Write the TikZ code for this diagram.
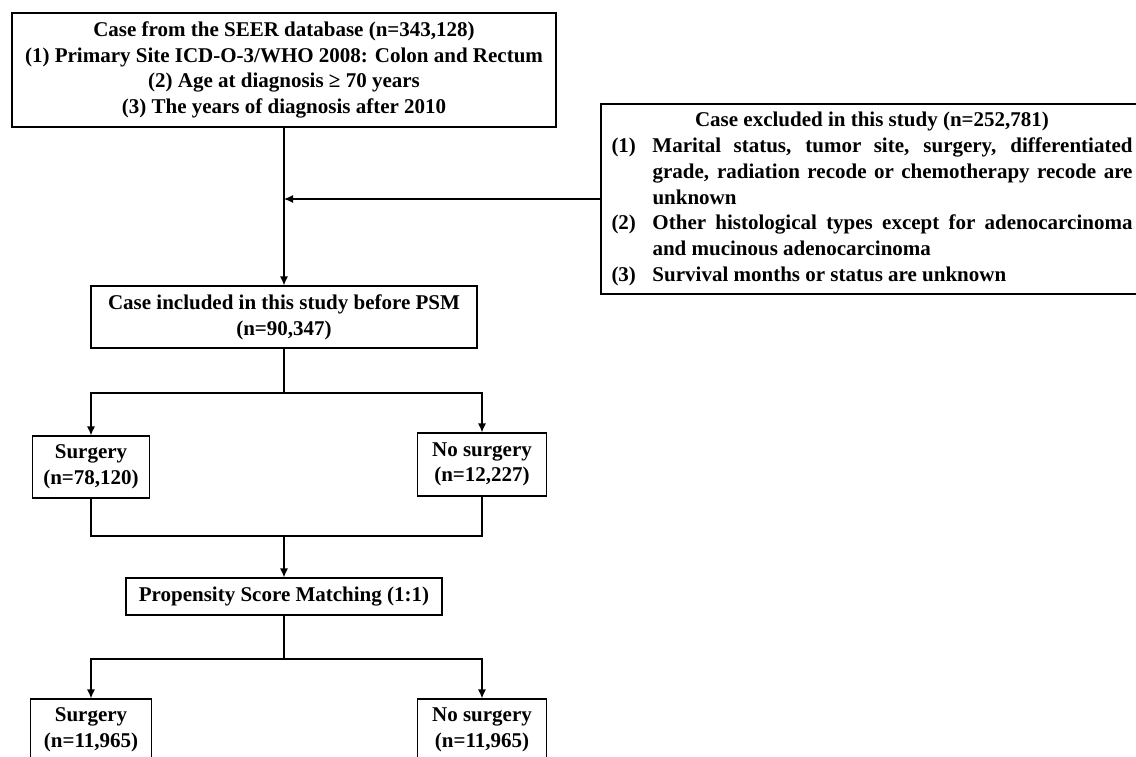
\documentclass[tikz,border=0pt]{standalone}
\usepackage{fontspec}
\setmainfont{Liberation Serif}
\usetikzlibrary{arrows.meta}
\tikzset{
  box/.style={draw, line width=1.2pt, inner sep=0pt, align=center,
    font=\bfseries\fontsize{21}{25.7}\selectfont},
  flow/.style={line width=1.2pt, -{Latex[length=9pt,width=8pt]}},
  link/.style={line width=1.2pt}
}
\begin{document}
\begin{tikzpicture}[x=1pt,y=-1pt]
\useasboundingbox (0,0) rectangle (1136,757);
\clip (0,0) rectangle (1136,757);
% boxes
\node[box, minimum width=544, minimum height=114] (seer) at (284,70)
  {Case from the SEER database (n=343,128)\\
   (1) Primary Site ICD-O-3/WHO 2008: Colon and Rectum\\
   (2) Age at diagnosis ≥ 70 years\\
   (3) The years of diagnosis after 2010};
\node[box, text width=521pt, align=justify, inner xsep=10.5pt, minimum height=190] (excl) at (872,199)
  {\hyphenpenalty=10000\exhyphenpenalty=10000\tolerance=9999\parindent=0pt
   {\centering Case excluded in this study (n=252,781)\par}
   \hangindent=41pt\hangafter=1\makebox[41pt][l]{(1)}Marital status, tumor site, surgery, differentiated grade, radiation recode or chemotherapy recode are unknown\par
   \hangindent=41pt\hangafter=1\makebox[41pt][l]{(2)}Other histological types except for adenocarcinoma and mucinous adenocarcinoma\par
   \hangindent=41pt\hangafter=1\makebox[41pt][l]{(3)}Survival months or status are unknown\par};
\node[box, minimum width=386, minimum height=62] (incl) at (284,317)
  {Case included in this study before PSM\\(n=90,347)};
\node[box, minimum width=117, minimum height=62] (surg1) at (91,467) {Surgery\\(n=78,120)};
\node[box, minimum width=129, minimum height=63] (nosurg1) at (482,464.5) {No surgery\\(n=12,227)};
\node[box, minimum width=316, minimum height=37] (psm) at (284,596.5) {Propensity Score Matching (1:1)};
\node[box, minimum width=121, minimum height=62] (surg2) at (91,730) {Surgery\\(n=11,965)};
\node[box, minimum width=129, minimum height=62] (nosurg2) at (482,730) {No surgery\\(n=11,965)};
\coordinate (split1) at (284,393);
\coordinate (merge) at (284,536);
\coordinate (split2) at (284,659);
% connectors
\draw[flow] (seer) -- (incl);
\draw[flow] (excl.west) -- (excl.west -| seer.south);
\draw[link] (incl) -- (split1);
\draw[flow] (split1) -| (surg1);
\draw[flow] (split1) -| (nosurg1);
\draw[link] (surg1) |- (merge);
\draw[link] (nosurg1) |- (merge);
\draw[flow] (merge) -- (psm);
\draw[link] (psm) -- (split2);
\draw[flow] (split2) -| (surg2);
\draw[flow] (split2) -| (nosurg2);
\end{tikzpicture}
\end{document}
